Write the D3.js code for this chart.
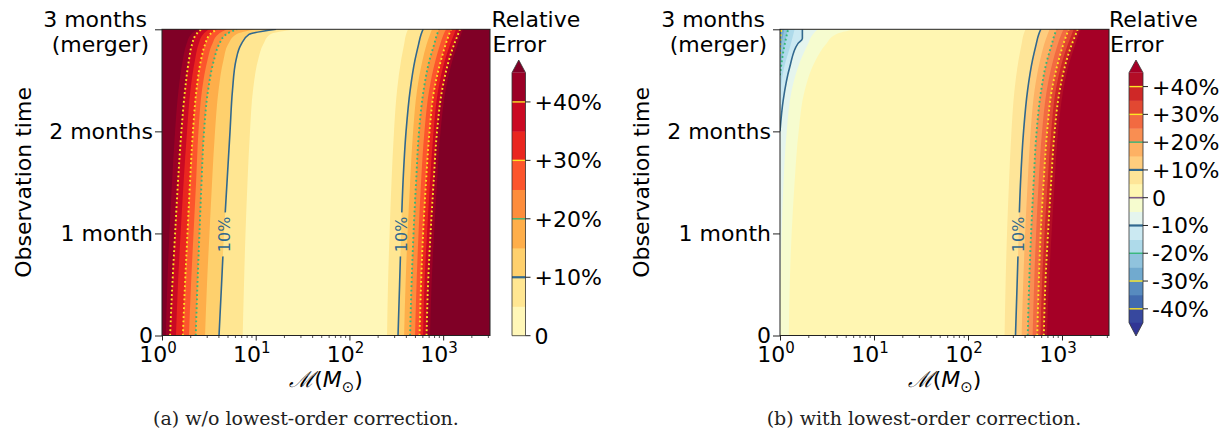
<!DOCTYPE html>
<html>
<head>
<meta charset="utf-8">
<title>Relative error of chirp mass</title>
<script src="https://d3js.org/d3.v7.min.js"></script>
<style>
  body { margin: 0; background: #fff; }
</style>
</head>
<body>
<div id="chart"></div>
<script>
// observation time (months) at which the contour positions were read
const obsMonths = [0, 0.5, 1, 1.5, 2, 2.4, 2.7, 2.85, 2.95, 3];
const posLevels = [5, 10, 15, 20, 25, 30, 35, 40, 45];

// (a) chirp mass (M_sun) where the error crosses each level, low-mass side
const aLowMass = [
  [7.26, 7.50, 7.78, 8.17, 8.69, 9.35, 10.6, 12.0, 14.2, 26.3],
  [4.06, 4.32, 4.59, 4.94, 5.32, 5.65, 6.17, 6.97, 8.48, 16.5],
  [2.88, 3.02, 3.21, 3.42, 3.68, 4.01, 4.53, 5.06, 6.17, 9.84],
  [2.29, 2.39, 2.51, 2.64, 2.81, 3.10, 3.59, 4.06, 4.82, 6.31],
  [1.94, 2.04, 2.17, 2.31, 2.45, 2.67, 3.06, 3.42, 3.96, 4.94],
  [1.67, 1.76, 1.87, 1.99, 2.14, 2.33, 2.61, 2.88, 3.25, 3.86],
  [1.41, 1.48, 1.58, 1.70, 1.85, 2.01, 2.25, 2.45, 2.74, 3.17],
  [1.22, 1.29, 1.38, 1.48, 1.61, 1.76, 1.94, 2.09, 2.31, 2.61],
  [1.10, 1.14, 1.20, 1.28, 1.38, 1.50, 1.67, 1.82, 2.04, 2.42]
];
// (a) high-mass side
const aHighMass = [
  [252, 258, 268, 281, 299, 322, 356, 383, 402, 422],
  [330, 343, 356, 373, 402, 444, 501, 546, 581, 611],
  [383, 397, 417, 444, 478, 526, 603, 665, 724, 762],
  [444, 460, 483, 514, 553, 618, 716, 800, 861, 904],
  [501, 520, 546, 581, 632, 708, 830, 927, 1010, 1074],
  [560, 581, 611, 656, 716, 800, 950, 1061, 1156, 1213],
  [611, 632, 673, 724, 791, 883, 1047, 1186, 1306, 1374],
  [665, 690, 734, 791, 861, 973, 1156, 1306, 1442, 1514],
  [724, 752, 800, 861, 938, 1061, 1259, 1426, 1552, 1630]
];
// (b) high-mass side
const bHighMass = [
  [245, 251, 260, 273, 290, 312, 345, 371, 390, 410],
  [320, 333, 346, 362, 390, 430, 486, 530, 565, 595],
  [372, 386, 405, 431, 464, 510, 585, 645, 702, 740],
  [432, 447, 469, 499, 537, 600, 695, 777, 836, 878],
  [487, 505, 530, 564, 614, 688, 806, 900, 981, 1043],
  [545, 565, 593, 637, 695, 777, 922, 1030, 1122, 1178],
  [590, 612, 652, 703, 768, 857, 1017, 1152, 1268, 1334],
  [640, 665, 710, 766, 835, 945, 1122, 1268, 1400, 1470],
  [692, 725, 775, 836, 910, 1030, 1222, 1385, 1507, 1583]
];
// (b) low-mass side: negative error near the merger
const bNegLevels = [0, -5, -10, -15, -20, -25, -30];
const bNegMonths = [
  [0, 0.5, 1, 1.5, 2, 2.4, 2.7, 2.85, 2.95, 3],
  [0, 0.5, 1, 1.5, 2, 2.4, 2.7, 2.85, 2.95, 3],
  [2, 2.3, 2.63, 2.86, 2.91, 3],
  [2.3, 2.6, 2.85, 3],
  [2.55, 2.75, 2.9, 3],
  [2.68, 2.85, 3],
  [2.76, 2.9, 3]
];
const bNegMass = [
  [1.24, 1.27, 1.33, 1.43, 1.58, 1.83, 2.40, 3.06, 3.91, 6.24],
  [1.00, 1.01, 1.04, 1.09, 1.18, 1.33, 1.66, 1.97, 2.23, 2.52],
  [1.00, 1.08, 1.27, 1.55, 1.73, 1.73],
  [1.00, 1.09, 1.30, 1.43],
  [1.00, 1.07, 1.15, 1.22],
  [1.00, 1.04, 1.11],
  [1.00, 1.01, 1.03]
];

const yTicks = [0, 1, 2, 3];
const yTickLabels = [['0'], ['1 month'], ['2 months'], ['3 months', '(merger)']];
const xTicks = [1, 10, 100, 1000];
const xTickExp = ['0', '1', '2', '3'];
const cbTicksA = [0, 10, 20, 30, 40];
const cbLabelsA = ['0', '+10%', '+20%', '+30%', '+40%'];
const cbTicksB = [-40, -30, -20, -10, 0, 10, 20, 30, 40];
const cbLabelsB = ['-40%', '-30%', '-20%', '-10%', '0', '+10%', '+20%', '+30%', '+40%'];

// colour maps (matplotlib YlOrRd and RdYlBu_r)
const ylorrd = d3.piecewise(d3.interpolateRgb, ['#ffffcc', '#ffeda0', '#fed976', '#feb24c', '#fd8d3c', '#fc4e2a', '#e31a1c', '#bd0026', '#800026']);
const rdylbuR = d3.piecewise(d3.interpolateRgb, ['#313695', '#4575b4', '#74add1', '#abd9e9', '#e0f3f8', '#ffffbf', '#fee090', '#fdae61', '#f46d43', '#d73027', '#a50026']);
const colorA = lo => lo >= 45 ? ylorrd(1) : ylorrd((lo / 5 + 0.5) / 9);
const colorB = lo => lo >= 45 ? rdylbuR(1) : lo < -45 ? rdylbuR(0) : rdylbuR(((lo + 45) / 5 + 0.5) / 18);

function lineStyle(v) {
  const a = Math.abs(v);
  if (a === 10) return { c: '#31688e', dash: null, w: 1.6 };
  if (a === 20) return { c: '#35b779', dash: '1.8,2.6', w: 1.9 };
  return { c: '#fde725', dash: '1.8,2.6', w: 1.9 };
}

const yTop = 29.3, yBot = 335.5;
const fontSize = 22;

const svg = d3.select('#chart').append('svg')
  .attr('width', 1228).attr('height', 436)
  .style('font-family', '"DejaVu Sans", sans-serif');
const defs = svg.append('defs');

function drawPanel(p) {
  const x = d3.scaleLog().domain([1, Math.pow(10, 3.5)]).range([p.left, p.right]);
  const y = d3.scaleLinear().domain([0, 3]).range([yBot, yTop]);
  const g = svg.append('g');

  defs.append('clipPath').attr('id', 'clip-' + p.id).append('rect')
    .attr('x', p.left).attr('y', yTop).attr('width', p.right - p.left).attr('height', yBot - yTop);
  const plot = g.append('g').attr('clip-path', `url(#clip-${p.id})`);

  plot.append('rect')
    .attr('x', p.left).attr('y', yTop).attr('width', p.right - p.left).attr('height', yBot - yTop)
    .attr('fill', p.mainColor);

  // filled bands, outermost drawn last
  p.bands.forEach(b => {
    const pts = b.months.map((t, i) => ({ t, m: b.mass[i] }));
    const area = d3.area().curve(d3.curveMonotoneY).y(d => y(d.t));
    if (b.side === 'low') area.x0(p.left - 2).x1(d => x(d.m));
    else area.x0(d => x(d.m)).x1(p.right + 2);
    plot.append('path').datum(pts).attr('d', area).attr('fill', b.fill);
  });

  // mask for the inline contour labels
  const mask = defs.append('mask').attr('id', 'mask-' + p.id);
  mask.append('rect').attr('x', 0).attr('y', 0).attr('width', 1228).attr('height', 436).attr('fill', '#fff');

  // contour lines
  p.bands.filter(b => b.level !== 0 && b.level % 10 === 0 && Math.abs(b.level) <= 40).forEach(b => {
    const pts = b.months.map((t, i) => ({ t, m: b.mass[i] }));
    const s = lineStyle(b.level);
    const line = d3.line().curve(d3.curveMonotoneY).x(d => x(d.m)).y(d => y(d.t));
    const path = plot.append('path').datum(pts).attr('d', line)
      .attr('fill', 'none').attr('stroke', s.c).attr('stroke-width', s.w);
    if (s.dash) path.attr('stroke-dasharray', s.dash);
    if (b.labelled) {
      const lx = x(b.mass[2]), ly = y(b.months[2]) + 1;
      mask.append('rect').attr('x', lx - 8).attr('y', ly - 22).attr('width', 16).attr('height', 44).attr('fill', '#000');
      path.attr('mask', `url(#mask-${p.id})`);
      g.append('text')
        .attr('transform', `translate(${lx},${ly}) rotate(-90)`)
        .attr('text-anchor', 'middle')
        .attr('dy', '0.36em')
        .attr('font-size', 16)
        .attr('fill', s.c)
        .text('10%');
    }
  });

  // frame
  g.append('rect')
    .attr('x', p.left).attr('y', yTop).attr('width', p.right - p.left).attr('height', yBot - yTop)
    .attr('fill', 'none').attr('stroke', '#222').attr('stroke-width', 1);

  // x axis: major and minor ticks
  const minor = x.ticks(40).filter(v => !xTicks.includes(v));
  g.append('g').attr('transform', `translate(0,${yBot})`)
    .call(d3.axisBottom(x).tickValues(minor).tickSize(2.5).tickFormat(''))
    .call(a => a.select('.domain').remove())
    .call(a => a.selectAll('line').attr('stroke', '#222').attr('stroke-width', 0.8));
  g.append('g').attr('transform', `translate(0,${yBot})`)
    .call(d3.axisBottom(x).tickValues(xTicks).tickSize(5).tickFormat(''))
    .call(a => a.select('.domain').remove())
    .call(a => a.selectAll('line').attr('stroke', '#222').attr('stroke-width', 1));
  xTicks.forEach((v, i) => {
    const t = g.append('text').attr('x', x(v) - 4).attr('y', 362).attr('text-anchor', 'middle')
      .attr('font-size', fontSize).attr('fill', '#000');
    t.append('tspan').text('10');
    t.append('tspan').attr('font-size', 15).attr('dy', -9).text(xTickExp[i]);
  });
  const xl = g.append('text').attr('x', (p.left + p.right) / 2).attr('y', 387)
    .attr('text-anchor', 'middle').attr('font-size', fontSize).attr('fill', '#000');
  xl.append('tspan').attr('font-family', '"DejaVu Serif", serif').attr('font-style', 'italic').text('\u2133');
  xl.append('tspan').text('(');
  xl.append('tspan').attr('font-style', 'italic').text('M');
  xl.append('tspan').attr('font-size', 15).attr('dy', 5).text('\u2299');
  xl.append('tspan').attr('dy', -5).text(')');

  // y axis
  g.append('g').attr('transform', `translate(${p.left},0)`)
    .call(d3.axisLeft(y).tickValues(yTicks).tickSize(7).tickFormat(''))
    .call(a => a.select('.domain').remove())
    .call(a => a.selectAll('line').attr('stroke', '#222').attr('stroke-width', 1));
  yTicks.forEach((v, i) => {
    const lines = yTickLabels[i];
    const t = g.append('text').attr('text-anchor', 'end').attr('font-size', fontSize).attr('fill', '#000');
    if (lines.length === 1) {
      t.attr('x', p.left - 9).attr('y', y(v)).attr('dy', '0.36em').text(lines[0]);
    } else {
      lines.forEach((s, k) => t.append('tspan').attr('x', p.left - (k ? 13 : 15)).attr('y', y(v) - 2.5 + k * 25).text(s));
    }
  });
  g.append('text')
    .attr('transform', `translate(${p.left - 131},${(yTop + yBot) / 2}) rotate(-90)`)
    .attr('text-anchor', 'middle').attr('font-size', fontSize).attr('fill', '#000')
    .text('Observation time');

  // caption
  g.append('text').attr('x', p.captionX).attr('y', 425).attr('text-anchor', 'middle')
    .attr('font-family', '"DejaVu Serif", serif').attr('font-size', 19).attr('fill', '#222')
    .text(p.caption);
}

function drawColorbar(c) {
  const g = svg.append('g');
  const s = d3.scaleLinear().domain(c.domain).range(c.range);
  const x0 = c.x, w = c.w;
  c.bandLo.forEach(lo => {
    g.append('rect').attr('x', x0).attr('y', s(lo + 5)).attr('width', w)
      .attr('height', s(lo) - s(lo + 5) + 0.4).attr('fill', c.color(lo));
  });
  const top = s(c.domain[1]), bot = s(c.domain[0]);
  g.append('path').attr('d', `M${x0},${top}L${x0 + w / 2},${top - 12.7}L${x0 + w},${top}Z`)
    .attr('fill', c.color(45));
  let outline = `M${x0},${bot}L${x0},${top}L${x0 + w / 2},${top - 12.7}L${x0 + w},${top}L${x0 + w},${bot}`;
  if (c.extendMin) {
    g.append('path').attr('d', `M${x0},${bot}L${x0 + w / 2},${bot + 13.3}L${x0 + w},${bot}Z`)
      .attr('fill', c.color(-50));
    outline += `L${x0 + w / 2},${bot + 13.3}Z`;
  } else outline += 'Z';
  // contour lines on the bar
  c.lines.forEach(v => {
    const st = lineStyle(v);
    g.append('line').attr('x1', x0).attr('x2', x0 + w).attr('y1', s(v)).attr('y2', s(v))
      .attr('stroke', st.c).attr('stroke-width', Math.abs(v) === 10 ? 2.2 : 1.4);
  });
  if (c.zeroLine) {
    g.append('line').attr('x1', x0).attr('x2', x0 + w).attr('y1', s(0)).attr('y2', s(0))
      .attr('stroke', '#7b5a86').attr('stroke-width', 1.6);
  }
  g.append('path').attr('d', outline).attr('fill', 'none').attr('stroke', '#333').attr('stroke-width', 0.8);
  c.ticks.forEach((v, i) => {
    g.append('line').attr('x1', x0 + w).attr('x2', x0 + w + 5).attr('y1', s(v)).attr('y2', s(v))
      .attr('stroke', '#222').attr('stroke-width', 1);
    g.append('text').attr('x', x0 + w + 9).attr('y', s(v)).attr('dy', '0.36em')
      .attr('font-size', fontSize).attr('fill', '#000').text(c.labels[i]);
  });
  const title = g.append('text').attr('font-size', fontSize).attr('fill', '#000');
  title.append('tspan').attr('x', c.titleX).attr('y', 26.7).text('Relative');
  title.append('tspan').attr('x', c.titleX + 1).attr('y', 51.7).text('Error');
}

const bandsFrom = (levels, massRows, side, colorFn, months) => levels.map((lv, i) => ({
  level: lv, side, mass: massRows[i], months: months ? months[i] : obsMonths,
  fill: colorFn(lv), labelled: lv === 10
}));

drawPanel({
  id: 'a', left: 162, right: 490, mainColor: colorA(0),
  caption: '(a) w/o lowest-order correction.', captionX: 306,
  bands: [
    ...bandsFrom(posLevels, aLowMass, 'low', colorA),
    ...bandsFrom(posLevels, aHighMass, 'high', colorA)
  ]
});

drawPanel({
  id: 'b', left: 780, right: 1109, mainColor: colorB(0),
  caption: '(b) with lowest-order correction.', captionX: 924,
  bands: [
    ...bNegLevels.map((lv, i) => ({
      level: lv, side: 'low', mass: bNegMass[i], months: bNegMonths[i],
      fill: colorB(lv - 5), labelled: false
    })),
    ...bandsFrom(posLevels, bHighMass, 'high', colorB)
  ]
});

drawColorbar({
  x: 512, w: 13.5, domain: [0, 45], range: [335.7, 72.7],
  bandLo: [0, 5, 10, 15, 20, 25, 30, 35, 40], color: colorA, extendMin: false,
  ticks: cbTicksA, labels: cbLabelsA, lines: [10, 20, 30, 40], titleX: 491.5
});

drawColorbar({
  x: 1129, w: 14, domain: [-45, 45], range: [322.7, 72.7],
  bandLo: d3.range(-45, 45, 5), color: colorB, extendMin: true, zeroLine: true,
  ticks: cbTicksB, labels: cbLabelsB, lines: [-40, -30, -20, -10, 10, 20, 30, 40], titleX: 1109
});
</script>
</body>
</html>
